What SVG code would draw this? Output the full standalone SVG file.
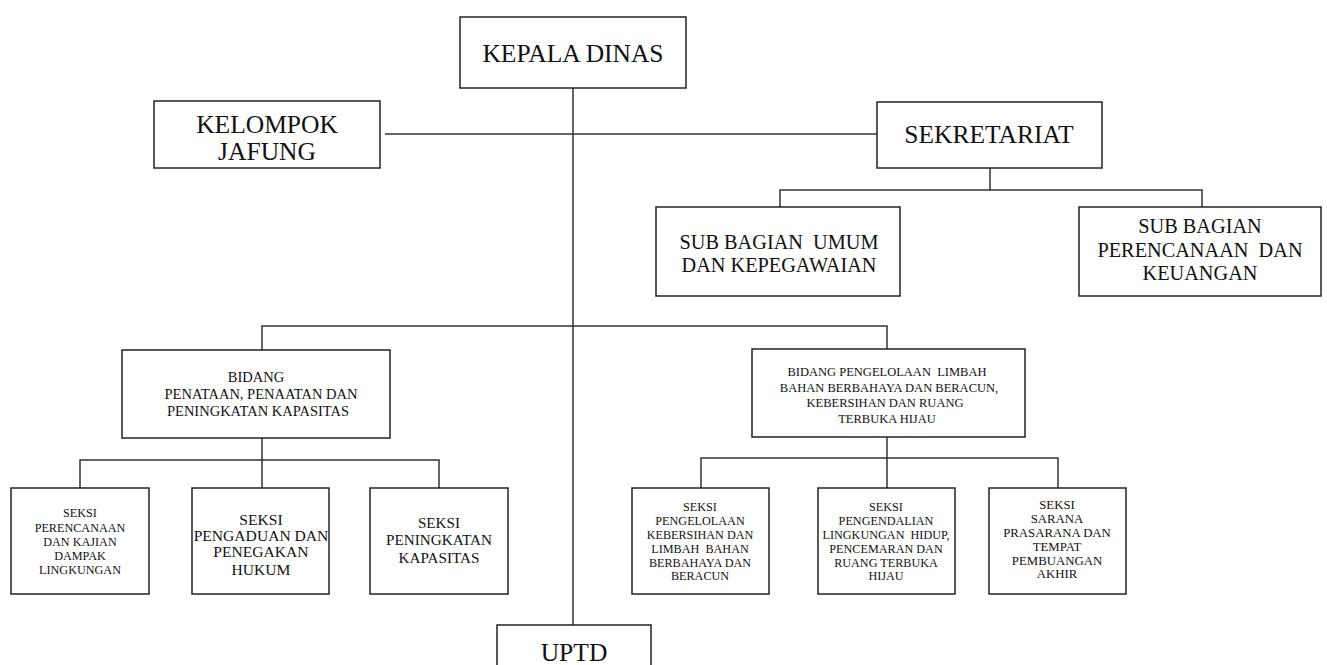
<svg xmlns="http://www.w3.org/2000/svg" width="1327" height="665" viewBox="0 0 1327 665">
<style>
.box{fill:#fff;stroke:#222;stroke-width:1.5}
.ln{fill:none;stroke:#333;stroke-width:1.5}
text{font-family:"Liberation Serif","Times New Roman",serif;fill:#111;text-anchor:middle;dominant-baseline:central;white-space:pre}
.f22{font-size:25.5px}
.f18{font-size:20.3px}
.fb1{font-size:14.5px}
.fb2{font-size:12.5px}
.f10{font-size:12.2px}
.f6{font-size:12.8px}
.f14{font-size:15.6px}
.f15{font-size:15.2px}
</style>
<rect width="1327" height="665" fill="#fff"/>
<g id="connectors">
<path class="ln" d="M573 88V625"/>
<path class="ln" d="M385 134H877"/>
<path class="ln" d="M990 168V190M780 207V190H1202V207"/>
<path class="ln" d="M262 350V326H887V349"/>
<path class="ln" d="M262 438V460M80 488V460H439V488M262 460V488"/>
<path class="ln" d="M887 437V458M701 488V458H1058V488M887 458V488"/>
</g>
<g id="kepala"><rect class="box" x="460" y="17" width="226" height="71"/><text class="f22" x="573" y="53">KEPALA DINAS</text></g>
<g id="jafung"><rect class="box" x="154" y="101" width="226" height="67"/><text class="f22" x="267" y="124">KELOMPOK</text><text class="f22" x="267" y="151">JAFUNG</text></g>
<g id="sekretariat"><rect class="box" x="877" y="102" width="225" height="66"/><text class="f22" x="989" y="134">SEKRETARIAT</text></g>
<g id="subumum"><rect class="box" x="656" y="207" width="244" height="89"/><text class="f18" x="779" y="242" xml:space="preserve">SUB BAGIAN  UMUM</text><text class="f18" x="779" y="265">DAN KEPEGAWAIAN</text></g>
<g id="subperencanaan"><rect class="box" x="1079" y="207" width="242" height="89"/><text class="f18" x="1200" y="226">SUB BAGIAN</text><text class="f18" x="1200" y="250" xml:space="preserve">PERENCANAAN  DAN</text><text class="f18" x="1200" y="273">KEUANGAN</text></g>
<g id="bidang1"><rect class="box" x="122" y="350" width="268" height="88"/><text class="fb1" x="256" y="377">BIDANG</text><text class="fb1" x="261" y="394">PENATAAN, PENAATAN DAN</text><text class="fb1" x="258" y="411">PENINGKATAN KAPASITAS</text></g>
<g id="bidang2"><rect class="box" x="752" y="349" width="273" height="88"/><text class="fb2" x="887" y="372" xml:space="preserve">BIDANG PENGELOLAAN  LIMBAH</text><text class="fb2" x="889" y="388">BAHAN BERBAHAYA DAN BERACUN,</text><text class="fb2" x="885" y="403">KEBERSIHAN DAN RUANG</text><text class="fb2" x="887" y="419">TERBUKA HIJAU</text></g>
<g id="seksi1"><rect class="box" x="11" y="488" width="138" height="106"/><text class="f10" x="80" y="513">SEKSI</text><text class="f10" x="80" y="528">PERENCANAAN</text><text class="f10" x="80" y="542">DAN KAJIAN</text><text class="f10" x="80" y="556">DAMPAK</text><text class="f10" x="80" y="570">LINGKUNGAN</text></g>
<g id="seksi2"><rect class="box" x="192" y="488" width="137" height="106"/><text class="f14" x="261" y="519">SEKSI</text><text class="f14" x="261" y="535">PENGADUAN DAN</text><text class="f14" x="261" y="551">PENEGAKAN</text><text class="f14" x="261" y="569">HUKUM</text></g>
<g id="seksi3"><rect class="box" x="370" y="488" width="138" height="106"/><text class="f15" x="439" y="522">SEKSI</text><text class="f15" x="439" y="539">PENINGKATAN</text><text class="f15" x="439" y="557">KAPASITAS</text></g>
<g id="seksi4"><rect class="box" x="632" y="488" width="137" height="106"/><text class="f10" x="700" y="507">SEKSI</text><text class="f10" x="700" y="521">PENGELOLAAN</text><text class="f10" x="700" y="535">KEBERSIHAN DAN</text><text class="f10" x="700" y="549" xml:space="preserve">LIMBAH  BAHAN</text><text class="f10" x="700" y="563">BERBAHAYA DAN</text><text class="f10" x="700" y="576">BERACUN</text></g>
<g id="seksi5"><rect class="box" x="818" y="488" width="137" height="106"/><text class="f10" x="886" y="507">SEKSI</text><text class="f10" x="886" y="521">PENGENDALIAN</text><text class="f10" x="886" y="535" xml:space="preserve">LINGKUNGAN  HIDUP,</text><text class="f10" x="886" y="549">PENCEMARAN DAN</text><text class="f10" x="886" y="563">RUANG TERBUKA</text><text class="f10" x="886" y="576">HIJAU</text></g>
<g id="seksi6"><rect class="box" x="989" y="488" width="137" height="106"/><text class="f6" x="1057" y="505">SEKSI</text><text class="f6" x="1057" y="519">SARANA</text><text class="f6" x="1057" y="533">PRASARANA DAN</text><text class="f6" x="1057" y="547">TEMPAT</text><text class="f6" x="1057" y="561">PEMBUANGAN</text><text class="f6" x="1057" y="574">AKHIR</text></g>
<g id="uptd"><rect class="box" x="497" y="625" width="154" height="50"/><text class="f22" x="574" y="652">UPTD</text></g>
</svg>
